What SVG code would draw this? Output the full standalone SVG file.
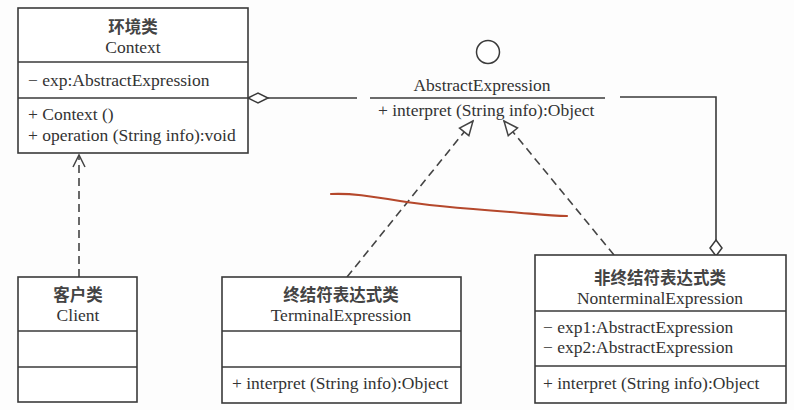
<svg xmlns="http://www.w3.org/2000/svg" width="794" height="410" viewBox="0 0 794 410">
<defs>
<style>
.box{fill:#fff;stroke:#3a3a3a;stroke-width:1.6}
.sep{stroke:#3a3a3a;stroke-width:1.6}
.t{font-family:"Liberation Serif","Noto Sans CJK SC",serif;font-size:17.5px;fill:#333}
.c{text-anchor:middle}
.cn{font-family:"Noto Sans CJK SC","Liberation Serif",serif;font-size:16.5px;font-weight:bold;fill:#444;text-anchor:middle}
.ln{fill:none;stroke:#3a3a3a;stroke-width:1.6}
.dash{fill:none;stroke:#444;stroke-width:1.6;stroke-dasharray:8,5}
</style>
<marker id="tri" markerWidth="18" markerHeight="18" refX="16" refY="8" orient="auto" markerUnits="userSpaceOnUse">
<path d="M16,8 L2,2 L2,14 Z" fill="#fff" stroke="#444" stroke-width="1.5"/>
</marker>
<marker id="open" markerWidth="16" markerHeight="16" refX="14" refY="7" orient="auto" markerUnits="userSpaceOnUse">
<path d="M2,1 L14,7 L2,13" fill="none" stroke="#444" stroke-width="1.5"/>
</marker>
</defs>
<rect width="794" height="410" fill="#fdfdfd"/>

<g id="connectors">
<path class="ln" d="M268,98 L357,98"/>
<path class="ln" d="M620,97 L716,97 L716,240"/>
<polygon points="248,98 258,93 268,98 258,103" fill="#fff" stroke="#3a3a3a" stroke-width="1.5"/>
<polygon points="716,240 722,248 716,256 710,248" fill="#fff" stroke="#3a3a3a" stroke-width="1.5"/>
<path class="dash" d="M79,277 L79,155" marker-end="url(#open)"/>
<path class="dash" d="M347,277 L473,121" marker-end="url(#tri)"/>
<path class="dash" d="M614,255 L504,121" marker-end="url(#tri)"/>
</g>

<g id="Context">
<rect class="box" x="18" y="8" width="230" height="145"/>
<line class="sep" x1="18" y1="62" x2="248" y2="62"/>
<line class="sep" x1="18" y1="98" x2="248" y2="98"/>
<text class="cn" x="133" y="33">环境类</text>
<text class="t c" x="133" y="53">Context</text>
<text class="t" x="28" y="86">− exp:AbstractExpression</text>
<text class="t" x="28" y="120">+ Context ()</text>
<text class="t" x="28" y="141">+ operation (String info):void</text>
</g>

<g id="AbstractExpression">
<circle cx="488" cy="52" r="11.5" fill="#fff" stroke="#3a3a3a" stroke-width="1.5"/>
<text class="t c" x="482" y="91">AbstractExpression</text>
<line class="sep" x1="370" y1="98" x2="605" y2="98"/>
<text class="t" x="378" y="116">+ interpret (String info):Object</text>
</g>

<g id="Client">
<rect class="box" x="18" y="277" width="119" height="125"/>
<line class="sep" x1="18" y1="331" x2="137" y2="331"/>
<line class="sep" x1="18" y1="367" x2="137" y2="367"/>
<text class="cn" x="78" y="301">客户类</text>
<text class="t c" x="78" y="321">Client</text>
</g>

<g id="TerminalExpression">
<rect class="box" x="222" y="277" width="239" height="126"/>
<line class="sep" x1="222" y1="331" x2="461" y2="331"/>
<line class="sep" x1="222" y1="367" x2="461" y2="367"/>
<text class="cn" x="341" y="301">终结符表达式类</text>
<text class="t c" x="341" y="321">TerminalExpression</text>
<text class="t" x="232" y="389">+ interpret (String info):Object</text>
</g>

<g id="NonterminalExpression">
<rect class="box" x="535" y="255" width="251" height="148"/>
<line class="sep" x1="535" y1="311" x2="786" y2="311"/>
<line class="sep" x1="535" y1="366" x2="786" y2="366"/>
<text class="cn" x="660" y="284">非终结符表达式类</text>
<text class="t c" x="660" y="304">NonterminalExpression</text>
<text class="t" x="543" y="333">− exp1:AbstractExpression</text>
<text class="t" x="543" y="353">− exp2:AbstractExpression</text>
<text class="t" x="543" y="389">+ interpret (String info):Object</text>
</g>

<path d="M331,194 C350,193 370,196 400,201 C430,206 470,209 510,212 C535,214 550,216 567,216" fill="none" stroke="#b5482c" stroke-width="2.2" stroke-linecap="round"/>
</svg>
